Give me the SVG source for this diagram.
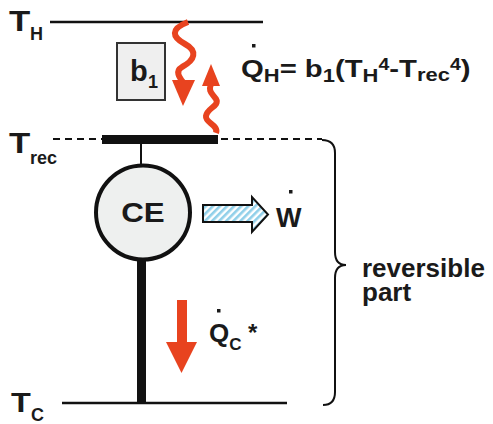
<svg xmlns="http://www.w3.org/2000/svg" width="493" height="424" viewBox="0 0 493 424">
<style>
text{font-family:"Liberation Sans",Arial,sans-serif;font-weight:bold;fill:#1a1a1a}
.ln{stroke:#111;fill:none}
.red{fill:#e8431f}
.wave{stroke:#e8431f;stroke-width:6;fill:none}
.dot{fill:#1a1a1a}
</style>
<defs>
<pattern id="hatch" width="5" height="5" patternUnits="userSpaceOnUse" patternTransform="rotate(45)">
<rect width="5" height="5" fill="#ffffff"/>
<rect width="2.6" height="5" fill="#8fcfe9"/>
</pattern>
</defs>
<rect width="493" height="424" fill="#ffffff"/>

<g id="level-TH">
<line class="ln" x1="50" y1="22" x2="263" y2="22" stroke-width="2.6"/>
<text transform="translate(9,31) scale(1.2,1)" font-size="29">T</text>
<text x="30" y="40" font-size="18">H</text>
</g>

<g id="level-Trec">
<line class="ln" x1="53" y1="139" x2="102" y2="139" stroke-width="2" stroke-dasharray="7,5"/>
<line class="ln" x1="221" y1="139" x2="322" y2="139" stroke-width="2" stroke-dasharray="7,5"/>
<rect x="102" y="135" width="116" height="9" fill="#111"/>
<text transform="translate(9,153) scale(1.2,1)" font-size="29">T</text>
<text x="30" y="164" font-size="18">rec</text>
</g>

<g id="level-TC">
<line class="ln" x1="62" y1="403" x2="287" y2="403" stroke-width="2.6"/>
<text transform="translate(11,412) scale(1.2,1)" font-size="27">T</text>
<text x="31" y="421" font-size="18">C</text>
</g>

<g id="node-b1">
<rect x="117" y="43" width="48" height="57" fill="#efefef" stroke="#333" stroke-width="2"/>
<text x="130" y="81" font-size="29">b</text>
<text x="148" y="88" font-size="18">1</text>
</g>

<g id="node-CE">
<circle cx="143" cy="212.5" r="47" fill="#eef0ef" stroke="#111" stroke-width="4"/>
<text transform="translate(143,222) scale(1.12,1)" font-size="28" text-anchor="middle">CE</text>
</g>

<g id="connectors">
<line class="ln" x1="141" y1="144" x2="141" y2="165" stroke-width="2"/>
<line class="ln" x1="141.5" y1="261" x2="141.5" y2="404" stroke-width="9"/>
<path class="wave" d="M188,22 C170,29 172,37 185,44 C198,51 195,60 182,67 C175,71 179,77 183,82"/>
<polygon class="red" points="172,80 195,80 183,106"/>
<path class="wave" d="M216,133 C219,125 205,123 206,116 C207,108 220,106 216,99 C212,93 208,92 211,84"/>
<polygon class="red" points="202,86 220,86 211,64"/>
<polygon points="203,205 252,205 252,197 268,214.5 252,232 252,222 203,222" fill="url(#hatch)" stroke="#111" stroke-width="2" stroke-linejoin="miter"/>
<rect class="red" x="177" y="300" width="10" height="43"/>
<polygon class="red" points="166,342 197,342 181.5,373"/>
<path class="ln" stroke-width="2" d="M322,140 Q335,140 335,153 L335,252 Q335,265 346,265 Q335,265 335,278 L335,392 Q335,405 323,405"/>
</g>

<g id="label-QH">
<rect class="dot" x="252" y="44" width="3.5" height="3.5"/>
<text transform="translate(241,77) scale(1.22,1)" font-size="24">Q<tspan font-size="18" dy="5">H</tspan><tspan dy="-5">= b</tspan><tspan font-size="18" dy="5">1</tspan><tspan dy="-5">(T</tspan><tspan font-size="18" dy="5">H</tspan><tspan font-size="16" dy="-12">4</tspan><tspan dy="7">-T</tspan><tspan font-size="18" dy="4">rec</tspan><tspan font-size="16" dy="-11">4</tspan><tspan dy="7">)</tspan></text>
</g>

<g id="label-W">
<rect class="dot" x="289" y="190" width="3.5" height="3.5"/>
<text x="276" y="227" font-size="27">W</text>
</g>

<g id="label-QC">
<rect class="dot" x="217" y="309" width="3.5" height="3.5"/>
<text x="209" y="342" font-size="26">Q<tspan font-size="17" dy="8">C</tspan></text>
<text x="248" y="341" font-size="24">*</text>
</g>

<g id="label-reversible">
<text x="362" y="277" font-size="26">reversible</text>
<text x="362" y="301" font-size="26">part</text>
</g>
</svg>
